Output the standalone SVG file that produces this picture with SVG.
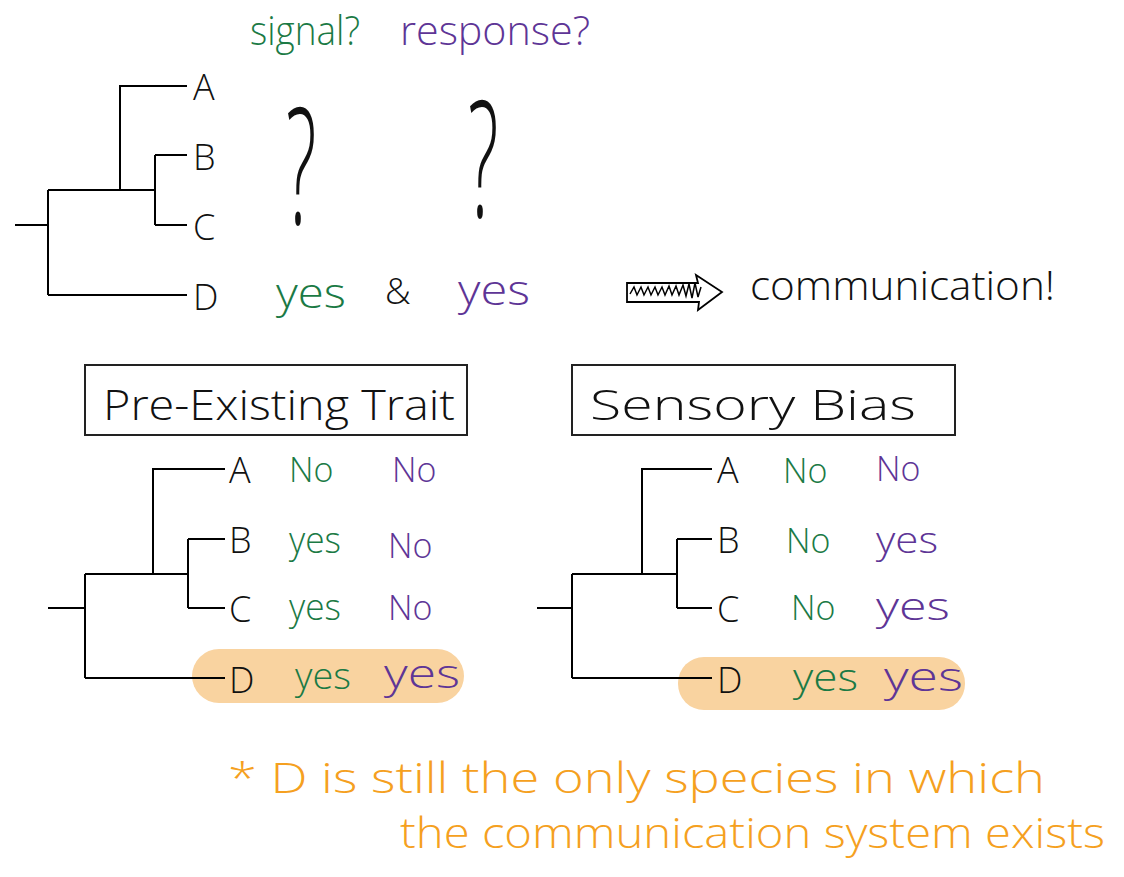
<svg xmlns="http://www.w3.org/2000/svg" width="1124" height="877" viewBox="0 0 1124 877">
<style>
  .t{font-family:"Open Sans","Liberation Sans",sans-serif;font-weight:300}
  .blk{fill:#111}
  .grn{fill:#1b7a45}
  .pur{fill:#5e3596}
  .org{fill:#f5a020}
  .lbl{font-size:36px}
  .val{font-size:34px}
  .br{stroke:#000;stroke-width:2;fill:none}
  .hl{fill:#f9d3a0}
  .box{fill:#fff;stroke:#222;stroke-width:2}
</style>
<rect width="1124" height="877" fill="#fff"/>

<!-- highlights -->
<g id="highlights">
  <rect class="hl" x="192" y="649" width="272" height="54" rx="27"/>
  <rect class="hl" x="678" y="657" width="287" height="53" rx="26"/>
</g>

<!-- connectors (tree branches) -->
<g id="connectors" class="br">
  <!-- top tree -->
  <path d="M15 225H48M48 190V295M48 190H155M120 190V86H187M155 155V225M155 155H187M155 225H187M48 295H187"/>
  <!-- bottom-left tree -->
  <path d="M48 608H85M85 574V678M85 574H188M153 574V469H225M188 539V608M188 539H225M188 608H225M85 678H225"/>
  <!-- bottom-right tree -->
  <path d="M537 608H572M572 574V678M572 574H677M642 574V469H712M677 539V608M677 539H712M677 608H712M572 678H712"/>
  <!-- arrow -->
  <path d="M627 283H698L696 275L722 292L698 310L699 302H627Z" stroke-width="1.8"/>
  <path d="M630 294l4-7 3 8 4-8 3 8 4-8 3 8 4-8 3 8 4-8 3 8 4-9 3 9 4-9 3 9 4-10 3 11 3-12 3 14 3-15 3 14 3-10" stroke-width="1.5"/>
</g>

<!-- top header -->
<g id="header">
  <text class="t grn" x="250" y="45" font-size="40" textLength="110" lengthAdjust="spacingAndGlyphs">signal?</text>
  <text class="t pur" x="400" y="45" font-size="40" textLength="190" lengthAdjust="spacingAndGlyphs">response?</text>
</g>

<g id="top-tree-labels">
  <text class="t blk lbl" x="193" y="100">A</text>
  <text class="t blk lbl" x="193" y="170">B</text>
  <text class="t blk lbl" x="193" y="240">C</text>
  <text class="t blk lbl" x="193" y="310">D</text>
  <text class="t blk" transform="translate(286 224) scale(1 2.25)" font-size="72">?</text>
  <text class="t blk" transform="translate(468 217) scale(1 2.25)" font-size="72">?</text>
  <text class="t grn" x="276" y="308" font-size="42" textLength="70" lengthAdjust="spacingAndGlyphs">yes</text>
  <text class="t blk" x="385" y="304" font-size="36">&amp;</text>
  <text class="t pur" x="458" y="305" font-size="42" textLength="72" lengthAdjust="spacingAndGlyphs">yes</text>
</g>

<g id="result">
  <text class="t blk" x="750" y="300" font-size="40" textLength="305" lengthAdjust="spacingAndGlyphs">communication!</text>
</g>

<!-- Pre-existing trait panel -->
<g id="pre-existing">
  <rect class="box" x="85" y="365" width="382" height="70"/>
  <text class="t blk" x="103" y="420" font-size="42" textLength="352" lengthAdjust="spacingAndGlyphs">Pre-Existing Trait</text>
  <text class="t blk lbl" x="229" y="483">A</text>
  <text class="t blk lbl" x="229" y="553">B</text>
  <text class="t blk lbl" x="229" y="622">C</text>
  <text class="t blk lbl" x="229" y="693">D</text>
  <text class="t grn val" x="289" y="482">No</text>
  <text class="t pur val" x="392" y="482">No</text>
  <text class="t grn" x="289" y="553" font-size="36" textLength="52" lengthAdjust="spacingAndGlyphs">yes</text>
  <text class="t pur val" x="388" y="558">No</text>
  <text class="t grn" x="289" y="620" font-size="36" textLength="52" lengthAdjust="spacingAndGlyphs">yes</text>
  <text class="t pur val" x="388" y="620">No</text>
  <text class="t grn" x="295" y="689" font-size="36" textLength="56" lengthAdjust="spacingAndGlyphs">yes</text>
  <text class="t pur" x="384" y="688" font-size="40" textLength="76" lengthAdjust="spacingAndGlyphs">yes</text>
</g>

<!-- Sensory bias panel -->
<g id="sensory-bias">
  <rect class="box" x="572" y="365" width="383" height="70"/>
  <text class="t blk" x="590" y="420" font-size="42" textLength="326" lengthAdjust="spacingAndGlyphs">Sensory Bias</text>
  <text class="t blk lbl" x="717" y="483">A</text>
  <text class="t blk lbl" x="717" y="553">B</text>
  <text class="t blk lbl" x="717" y="622">C</text>
  <text class="t blk lbl" x="717" y="693">D</text>
  <text class="t grn val" x="783" y="483">No</text>
  <text class="t pur val" x="876" y="481">No</text>
  <text class="t grn val" x="786" y="553">No</text>
  <text class="t pur" x="876" y="553" font-size="36" textLength="62" lengthAdjust="spacingAndGlyphs">yes</text>
  <text class="t grn val" x="791" y="620">No</text>
  <text class="t pur" x="876" y="620" font-size="38" textLength="74" lengthAdjust="spacingAndGlyphs">yes</text>
  <text class="t grn" x="793" y="691" font-size="38" textLength="65" lengthAdjust="spacingAndGlyphs">yes</text>
  <text class="t pur" x="884" y="691" font-size="40" textLength="79" lengthAdjust="spacingAndGlyphs">yes</text>
</g>

<!-- footnote -->
<g id="footnote">
  <text class="t org" x="228" y="793" font-size="42" textLength="817" lengthAdjust="spacingAndGlyphs">* D is still the only species in which</text>
  <text class="t org" x="400" y="848" font-size="42" textLength="705" lengthAdjust="spacingAndGlyphs">the communication system exists</text>
</g>
</svg>
